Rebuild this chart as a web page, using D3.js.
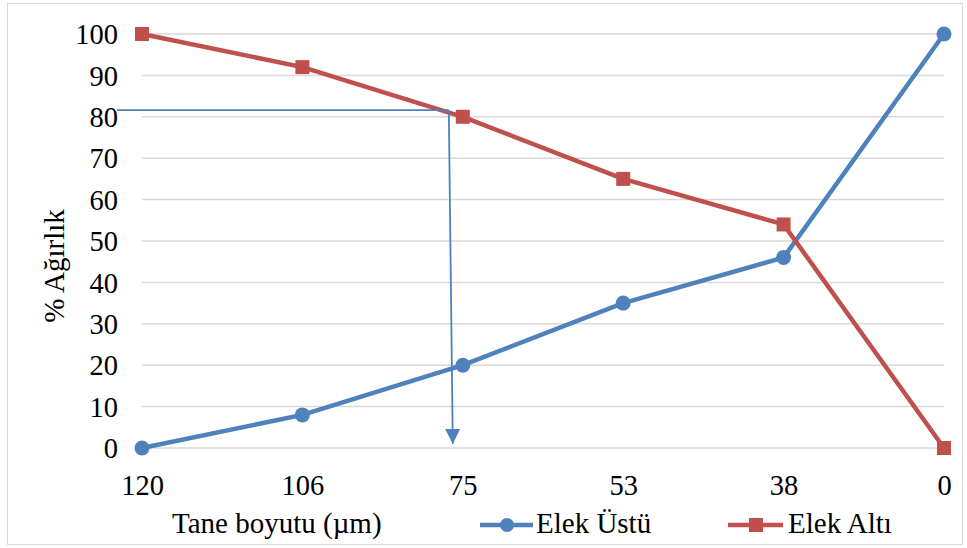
<!DOCTYPE html>
<html>
<head>
<meta charset="utf-8">
<script src="https://cdn.jsdelivr.net/npm/d3@7"></script>
<style>
  body { margin: 0; background: #fff; }
  svg text { font-family: "Times New Roman", "Liberation Serif", "DejaVu Serif", serif; fill: #000; }
</style>
</head>
<body>
<div id="chart"></div>
<script>
// data
var categories = ["120", "106", "75", "53", "38", "0"];
var elekUstu = [0, 8, 20, 35, 46, 100];
var elekAlti = [100, 92, 80, 65, 54, 0];
var yTicks = [0, 10, 20, 30, 40, 50, 60, 70, 80, 90, 100];
// reading line: 80% passing -> ~75 µm
var guideValue = 81.6;

var w = 967, h = 548;
var blue = "#4f81bd", red = "#c0504d";
var serif = "'Times New Roman', 'Liberation Serif', 'DejaVu Serif', serif";

var svg = d3.select("#chart").append("svg")
	.attr("width", w)
	.attr("height", h);

// outer border
svg.append("rect")
	.attr("x", 7.5).attr("y", 3.5)
	.attr("width", w - 12).attr("height", h - 7)
	.style("fill", "none")
	.style("stroke", "#d9d9d9");

var x = d3.scalePoint()
	.domain(categories)
	.range([142, 944]);

var y = d3.scaleLinear()
	.domain([0, 100])
	.range([448, 34]);

// gridlines
svg.append("g").selectAll("line")
	.data(yTicks)
	.enter().append("line")
	.attr("x1", 142).attr("x2", 944)
	.attr("y1", function(d) { return y(d); })
	.attr("y2", function(d) { return y(d); })
	.style("stroke", "#d9d9d9")
	.style("stroke-width", 1.5);

// y tick labels
var yAxis = svg.append("g")
	.attr("transform", "translate(118,0)")
	.call(d3.axisLeft(y).tickValues(yTicks).tickSize(0).tickPadding(0));
yAxis.attr("font-family", serif).attr("font-size", 28.5);
yAxis.select(".domain").remove();
yAxis.selectAll("text")
	.attr("dy", "0.34em");

// x tick labels
var xAxis = svg.append("g")
	.attr("transform", "translate(0,495)")
	.call(d3.axisBottom(x).tickSize(0).tickPadding(0));
xAxis.attr("font-family", serif).attr("font-size", 28.5);
xAxis.select(".domain").remove();
xAxis.selectAll("text")
	.attr("dy", "0");

// axis titles
svg.append("text")
	.attr("transform", "translate(64,266) rotate(-90)")
	.attr("text-anchor", "middle")
	.attr("font-family", serif)
	.attr("font-size", 29)
	.text("% Ağırlık");

svg.append("text")
	.attr("x", 172).attr("y", 533)
	.attr("font-family", serif)
	.attr("font-size", 29)
	.text("Tane boyutu (µm)");

// series lines
var line = d3.line()
	.x(function(d, i) { return x(categories[i]); })
	.y(function(d) { return y(d); });

svg.append("path")
	.datum(elekUstu)
	.attr("d", line)
	.style("fill", "none")
	.style("stroke", blue)
	.style("stroke-width", 4.5)
	.style("stroke-linejoin", "round");

svg.append("path")
	.datum(elekAlti)
	.attr("d", line)
	.style("fill", "none")
	.style("stroke", red)
	.style("stroke-width", 4.5)
	.style("stroke-linejoin", "round");

svg.append("g").selectAll("circle")
	.data(elekUstu)
	.enter().append("circle")
	.attr("cx", function(d, i) { return x(categories[i]); })
	.attr("cy", function(d) { return y(d); })
	.attr("r", 7.5)
	.style("fill", blue);

svg.append("g").selectAll("rect")
	.data(elekAlti)
	.enter().append("rect")
	.attr("x", function(d, i) { return x(categories[i]) - 7; })
	.attr("y", function(d) { return y(d) - 7; })
	.attr("width", 14).attr("height", 14)
	.style("fill", red);

// guide arrow
var defs = svg.append("defs");
defs.append("marker")
	.attr("id", "arrow")
	.attr("viewBox", "0 0 10 10")
	.attr("refX", 10).attr("refY", 5)
	.attr("markerWidth", 15).attr("markerHeight", 15)
	.attr("markerUnits", "userSpaceOnUse")
	.attr("orient", "auto")
	.append("path")
	.attr("d", "M0,0 L10,5 L0,10 z")
	.style("fill", blue);

var gx = x("75") - 14;
svg.append("line")
	.attr("x1", 117).attr("x2", gx)
	.attr("y1", y(guideValue)).attr("y2", y(guideValue))
	.style("stroke", blue)
	.style("stroke-width", 1.8);

svg.append("path")
	.attr("d", "M" + gx + "," + y(guideValue) + " L" + (gx + 4) + "," + (y(0) - 4))
	.style("fill", "none")
	.style("stroke", blue)
	.style("stroke-width", 1.8)
	.attr("marker-end", "url(#arrow)");

// legend
var legend = svg.append("g").attr("class", "legend")
	.attr("font-family", serif)
	.attr("font-size", 29);

legend.append("line")
	.attr("x1", 480).attr("x2", 533)
	.attr("y1", 525).attr("y2", 525)
	.style("stroke", blue).style("stroke-width", 4.5);
legend.append("circle")
	.attr("cx", 507).attr("cy", 525).attr("r", 7)
	.style("fill", blue);
legend.append("text")
	.attr("x", 536).attr("y", 533)
	.text("Elek Üstü");

legend.append("line")
	.attr("x1", 728).attr("x2", 783)
	.attr("y1", 525).attr("y2", 525)
	.style("stroke", red).style("stroke-width", 4.5);
legend.append("rect")
	.attr("x", 749).attr("y", 518)
	.attr("width", 14).attr("height", 14)
	.style("fill", red);
legend.append("text")
	.attr("x", 788).attr("y", 533)
	.text("Elek Altı");
</script>
</body>
</html>
